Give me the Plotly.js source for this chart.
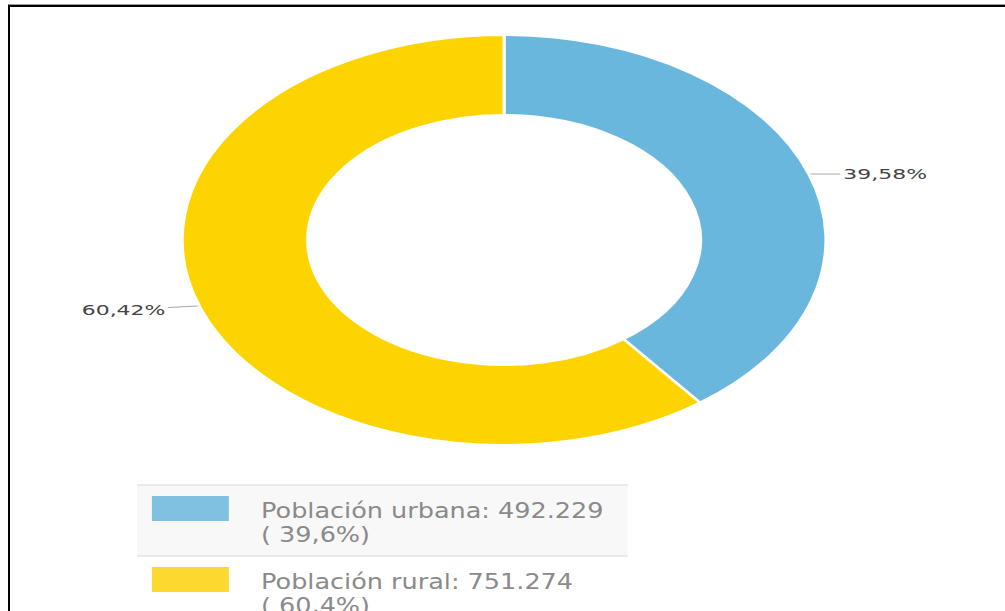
<!DOCTYPE html>
<html>
<head>
<meta charset="utf-8">
<script src="https://cdn.plot.ly/plotly-3.0.1.min.js"></script>
<style>
  html, body { margin:0; padding:0; background:#fff; }
  #wrap { position:relative; width:1005px; height:611px; overflow:hidden; background:#fff; }
  #frame { position:absolute; left:8px; top:5px; right:-10px; bottom:-10px; border-top:2px solid #000; border-left:2px solid #000; box-shadow: 0 -1px 0 #999; pointer-events:none; }
  #pie { position:absolute; left:0; top:0; transform-origin:0 0; }
  #legend { position:absolute; left:0; top:0; transform-origin:0 0; }
</style>
</head>
<body>
<div id="wrap">
  <div id="pie"></div>
  <div id="legend"></div>
  <div id="frame"></div>
</div>
<script>
// ---- data ----
const categories = ['Población urbana', 'Población rural'];
const values = [492229, 751274];
const sliceLabels = ['39,58%', '60,42%'];
const legendValueLabels = ['492.229', '751.274'];
const legendPctLabels = ['39,6%', '60,4%'];

// ---- styles ----
const pieColors = ['#69b7dc', '#fdd400'];
const swatchColors = ['#80c1e2', '#fbd92f'];

const W = 1005, H = 611;
// pie layer: horizontally stretched
const PIE_SX = 1.5703;
const PW = W / PIE_SX;
const CX = 321, CY = 240, R = 205;

const pieDiv = document.getElementById('pie');
pieDiv.style.width = PW + 'px';
pieDiv.style.height = H + 'px';
pieDiv.style.transform = 'scaleX(' + PIE_SX + ')';

const total = values.reduce((a, b) => a + b, 0);
let cum = 0;
const pieAnn = values.map((v, i) => {
  const frac = v / total;
  const mid = (cum + frac / 2) * 2 * Math.PI;
  cum += frac;
  const s = Math.sin(mid), c = Math.cos(mid);
  const px = CX + R * s, py = CY - R * c;
  return {
    x: px / PW, y: 1 - py / H, xref: 'paper', yref: 'paper',
    text: sliceLabels[i], showarrow: true, arrowhead: 0, arrowwidth: 1,
    arrowcolor: '#a8a8a8', standoff: 1,
    ax: s > 0 ? 48 : -48, ay: s > 0 ? 0 : 4,
    font: { family: 'DejaVu Sans', size: 14, color: '#444' }
  };
});

Plotly.newPlot(pieDiv, [{
  type: 'pie',
  labels: categories,
  values: values,
  sort: false,
  direction: 'clockwise',
  rotation: 0,
  hole: 0.61,
  marker: { colors: pieColors, line: { color: '#ffffff', width: 2 } },
  textinfo: 'none',
  hoverinfo: 'skip',
  showlegend: false,
  domain: { x: [(CX - R) / PW, (CX + R) / PW], y: [1 - (CY + R) / H, 1 - (CY - R) / H] }
}], {
  width: PW, height: H,
  margin: { l: 0, r: 0, t: 0, b: 0 },
  paper_bgcolor: 'rgba(0,0,0,0)',
  plot_bgcolor: 'rgba(0,0,0,0)',
  showlegend: false,
  annotations: pieAnn
}, { staticPlot: true, displayModeBar: false });

// legend layer: mildly stretched
const LEG_SX = 1.16;
const LW = W / LEG_SX;
const legDiv = document.getElementById('legend');
legDiv.style.width = LW + 'px';
legDiv.style.height = H + 'px';
legDiv.style.transform = 'scaleX(' + LEG_SX + ')';

const boxL = 118.1, boxR = 541.4, rowTop = 485, rowH = 71;
const shapes = [];
const legAnn = [];
categories.forEach((cat, i) => {
  const top = rowTop + i * rowH;
  if (i === 0) {
    shapes.push({ type: 'rect', xref: 'x', yref: 'y', x0: boxL, x1: boxR, y0: top, y1: top + rowH, fillcolor: '#f8f8f8', line: { width: 0 }, layer: 'below' });
  }
  shapes.push({ type: 'line', xref: 'x', yref: 'y', x0: boxL, x1: boxR, y0: top, y1: top, line: { color: '#e4e4e4', width: 1.5 } });
  shapes.push({ type: 'rect', xref: 'x', yref: 'y', x0: 131, x1: 197.4, y0: top + 11, y1: top + 36, fillcolor: swatchColors[i], line: { width: 0 } });
  legAnn.push({ xref: 'x', yref: 'y', x: 223, y: top + 25, xanchor: 'left', yanchor: 'middle', showarrow: false,
    text: cat + ': ' + legendValueLabels[i], font: { family: 'DejaVu Sans', size: 22, color: '#8a8a8a' } });
  legAnn.push({ xref: 'x', yref: 'y', x: 223, y: top + 49, xanchor: 'left', yanchor: 'middle', showarrow: false,
    text: '( ' + legendPctLabels[i] + ')', font: { family: 'DejaVu Sans', size: 22, color: '#8a8a8a' } });
});

Plotly.newPlot(legDiv, [], {
  width: LW, height: H,
  margin: { l: 0, r: 0, t: 0, b: 0 },
  paper_bgcolor: 'rgba(0,0,0,0)',
  plot_bgcolor: 'rgba(0,0,0,0)',
  xaxis: { range: [0, LW], visible: false, fixedrange: true },
  yaxis: { range: [H, 0], visible: false, fixedrange: true },
  shapes: shapes,
  annotations: legAnn,
  showlegend: false
}, { staticPlot: true, displayModeBar: false });
</script>
</body>
</html>
